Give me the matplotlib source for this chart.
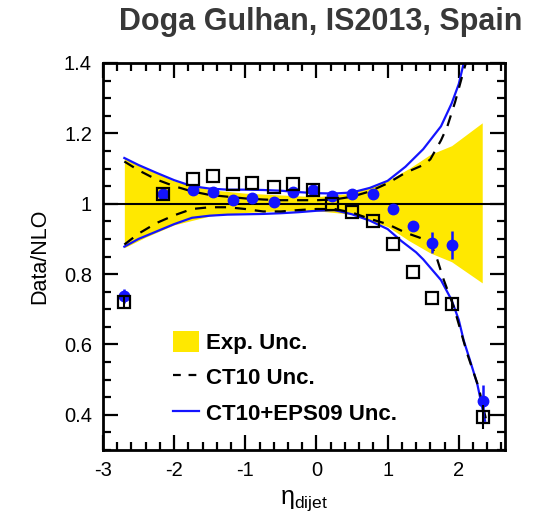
import numpy as np
import matplotlib
matplotlib.use('Agg')
import matplotlib.pyplot as plt
from matplotlib.patches import Patch
from matplotlib.lines import Line2D
from matplotlib.ticker import MultipleLocator

plt.rcParams['font.family'] = ['Liberation Sans', 'DejaVu Sans']
plt.rcParams['mathtext.fontset'] = 'custom'
plt.rcParams['mathtext.rm'] = 'Liberation Sans'

# data points
x_pts = [-2.7, -2.15, -1.73, -1.45, -1.17, -0.9, -0.6, -0.33, -0.05,
         0.22, 0.5, 0.8, 1.07, 1.35, 1.63, 1.9, 2.34]
blue_y = [0.737, 1.028, 1.04, 1.032, 1.01, 1.016, 1.004, 1.032, 1.04,
          1.021, 1.029, 1.028, 0.985, 0.937, 0.889, 0.882, 0.44]
blue_err = [0.02, 0, 0, 0, 0, 0, 0, 0, 0,
            0, 0, 0, 0.012, 0.015, 0.03, 0.04, 0.045]
sq_y = [0.72, 1.028, 1.069, 1.078, 1.057, 1.059, 1.048, 1.056, 1.04,
        1.0, 0.976, 0.95, 0.886, 0.805, 0.733, 0.716, 0.394]
sq_err = [0.018, 0, 0, 0, 0, 0, 0, 0, 0,
          0, 0, 0, 0, 0, 0, 0.015, 0.035]

# experimental uncertainty band
band_x = [-2.7, -2.4, -2.0, -1.5, -1.0, -0.5, 0.0, 0.5, 1.0, 1.3, 1.6, 1.9, 2.33]
band_hi = [1.13, 1.10, 1.065, 1.04, 1.03, 1.025, 1.02, 1.03, 1.065, 1.10, 1.14, 1.165, 1.23]
band_lo = [0.875, 0.905, 0.94, 0.965, 0.975, 0.98, 0.98, 0.97, 0.935, 0.895, 0.86, 0.835, 0.775]

# CT10+EPS09 uncertainty (solid blue)
eps_hi_x = [-2.7, -2.5, -2.25, -2.0, -1.75, -1.5, -1.25, -1.0, -0.75, -0.5, -0.25, 0.0,
            0.25, 0.5, 0.75, 1.0, 1.25, 1.5, 1.75, 1.9, 2.0, 2.07, 2.12]
eps_hi = [1.13, 1.11, 1.088, 1.067, 1.05, 1.043, 1.04, 1.04, 1.039, 1.037, 1.033, 1.03,
          1.029, 1.032, 1.045, 1.065, 1.105, 1.155, 1.22, 1.285, 1.34, 1.40, 1.45]
eps_lo_x = [-2.7, -2.5, -2.25, -2.0, -1.75, -1.5, -1.25, -1.0, -0.75, -0.5, -0.25, 0.0,
            0.25, 0.5, 0.75, 1.0, 1.2, 1.4, 1.5, 1.75, 1.9, 2.0, 2.07, 2.15, 2.26, 2.37]
eps_lo = [0.878, 0.9, 0.921, 0.942, 0.96, 0.966, 0.969, 0.97, 0.971, 0.973, 0.976, 0.98,
          0.982, 0.97, 0.952, 0.928, 0.893, 0.862, 0.842, 0.783, 0.726, 0.67, 0.611,
          0.56, 0.488, 0.383]

# CT10 uncertainty (dashed black)
ct_hi_x = [-2.7, -2.5, -2.25, -2.0, -1.75, -1.5, -1.25, -1.0, -0.75, -0.5, -0.25, 0.0,
           0.25, 0.5, 0.75, 1.0, 1.25, 1.5, 1.6, 1.75, 1.84, 1.95, 2.05, 2.1, 2.15]
ct_hi = [1.12, 1.095, 1.069, 1.05, 1.035, 1.025, 1.02, 1.015, 1.012, 1.01, 1.01, 1.01,
         1.012, 1.02, 1.035, 1.058, 1.088, 1.11, 1.126, 1.18, 1.22, 1.29, 1.364, 1.40, 1.44]
ct_lo_x = [-2.7, -2.5, -2.25, -2.0, -1.75, -1.5, -1.25, -1.0, -0.75, -0.5, -0.25, 0.0,
           0.25, 0.5, 0.75, 1.0, 1.25, 1.5, 1.6, 1.7, 1.79, 1.93, 2.12, 2.28, 2.38]
ct_lo = [0.884, 0.915, 0.945, 0.967, 0.985, 0.99, 0.99, 0.985, 0.978, 0.978, 0.982, 0.985,
         0.985, 0.975, 0.957, 0.942, 0.918, 0.9, 0.89, 0.84, 0.783, 0.707, 0.573, 0.478, 0.39]

BLUE = '#1414ff'
YELLOW = '#ffe800'

fig = plt.figure(figsize=(5.42, 5.2), dpi=100)
ax = fig.add_axes([103 / 542, 1 - 450 / 520, 402 / 542, 387 / 520])

ax.fill_between(band_x, band_lo, band_hi, color=YELLOW, lw=0, zorder=1)
ax.plot(eps_hi_x, eps_hi, color=BLUE, lw=1.6, zorder=2)
ax.plot(eps_lo_x, eps_lo, color=BLUE, lw=1.6, zorder=2)
ax.plot(ct_hi_x, ct_hi, color='black', lw=1.6, ls=(0, (5, 4)), zorder=2)
ax.plot(ct_lo_x, ct_lo, color='black', lw=1.6, ls=(0, (5, 4)), zorder=2)
ax.axhline(1.0, color='black', lw=1.5, zorder=3)

ax.errorbar(x_pts, blue_y, yerr=blue_err, fmt='o', color=BLUE, ms=7.5,
            elinewidth=1.8, capsize=0, zorder=4)
ax.errorbar(x_pts, sq_y, yerr=sq_err, fmt='s', mfc='none', mec='black', mew=1.6,
            ecolor='black', ms=8.5, elinewidth=1.5, capsize=0, zorder=5)

ax.set_xlim(-3, 2.65)
ax.set_ylim(0.3, 1.4)
ax.xaxis.set_minor_locator(MultipleLocator(0.2))
ax.yaxis.set_minor_locator(MultipleLocator(0.05))
ax.set_xticks([-3, -2, -1, 0, 1, 2])
ax.set_xticklabels(['-3', '-2', '-1', '0', '1', '2'])
ax.set_yticks([0.4, 0.6, 0.8, 1.0, 1.2, 1.4])
ax.set_yticklabels(['0.4', '0.6', '0.8', '1', '1.2', '1.4'])
ax.tick_params(which='both', direction='in', top=True, right=True, width=1.6,
               labelsize=14.5, pad=8)
ax.tick_params(which='major', length=11)
ax.tick_params(which='minor', length=5.5)
for s in ax.spines.values():
    s.set_linewidth(2)

ax.set_ylabel('Data/NLO', fontsize=15.5, labelpad=10)
ax.set_xlabel(r'$\mathrm{η}_{\mathrm{dijet}}$', fontsize=18, labelpad=6)

handles = [Patch(facecolor=YELLOW, edgecolor='none'),
           Line2D([], [], color='black', lw=1.6, ls=(0, (3.5, 3.5))),
           Line2D([], [], color=BLUE, lw=1.6)]
labels = ['Exp. Unc.', 'CT10 Unc.', 'CT10+EPS09 Unc.']
ax.legend(handles, labels, loc='upper left', bbox_to_anchor=(0.174, 0.308),
          frameon=False, prop={'weight': 'bold', 'size': 16},
          borderpad=0, borderaxespad=0,
          handlelength=1.17, handleheight=1.08, handletextpad=0.32, labelspacing=0.56)

fig.text(321 / 542, 1 - 22 / 520, 'Doga Gulhan, IS2013, Spain', ha='center', va='center',
         fontsize=22, fontweight='bold', color='#383838')

fig.savefig('out.png', dpi=100)
